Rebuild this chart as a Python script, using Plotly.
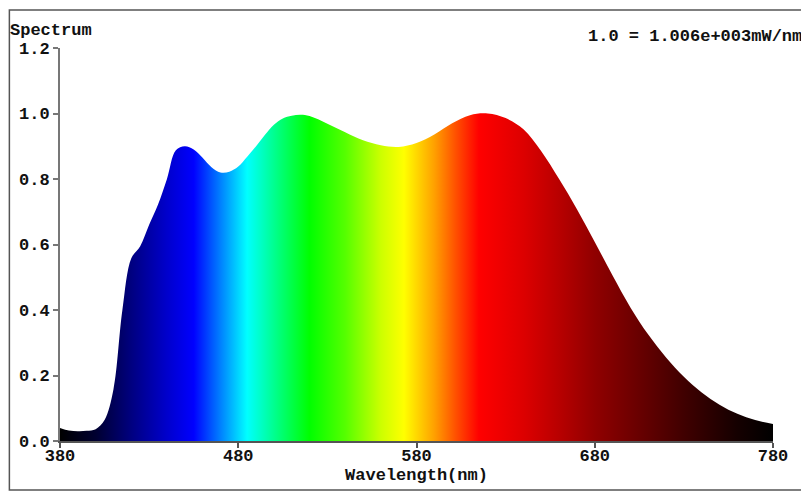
import plotly.graph_objects as go

# Spectrum (relative units, 1.0 = 1.006e+003 mW/nm)
wavelength = [380, 385, 390, 395, 400, 405, 410, 415, 420, 425, 430, 435, 440, 445,
              450, 455, 460, 465, 470, 475, 480, 485, 490, 495, 500, 505, 510, 515,
              520, 530, 540, 550, 560, 570, 580, 590, 600, 610, 620, 630, 640, 650,
              660, 670, 680, 690, 700, 710, 720, 730, 740, 750, 760, 770, 780]
intensity = [0.040, 0.032, 0.030, 0.031, 0.036, 0.064, 0.158, 0.400, 0.558, 0.595,
             0.660, 0.722, 0.800, 0.888, 0.900, 0.890, 0.865, 0.836, 0.820, 0.822,
             0.838, 0.868, 0.900, 0.935, 0.966, 0.985, 0.993, 0.996, 0.992, 0.969,
             0.943, 0.918, 0.903, 0.898, 0.910, 0.936, 0.970, 0.995, 1.000, 0.986,
             0.952, 0.885, 0.800, 0.708, 0.608, 0.505, 0.408, 0.325, 0.255, 0.196,
             0.148, 0.111, 0.083, 0.064, 0.052]

x_ticks = [380, 480, 580, 680, 780]
y_ticks = [0.0, 0.2, 0.4, 0.6, 0.8, 1.0, 1.2]

# rainbow colour stops along the wavelength axis
color_stops = [
    (380, "#000000"), (400, "#000030"), (420, "#000080"), (440, "#0000cc"),
    (455, "#0000ff"), (470, "#0080ff"), (485, "#00ffff"), (500, "#00ff90"),
    (520, "#00ff00"), (540, "#55ff00"), (560, "#ccff00"), (573, "#ffff00"),
    (590, "#ffa000"), (602, "#ff5000"), (615, "#ff0000"), (640, "#dd0000"),
    (660, "#b80000"), (680, "#900000"), (700, "#700000"), (730, "#400000"),
    (760, "#150000"), (780, "#000000"),
]
colorscale = [[(nm - 380) / 400, c] for nm, c in color_stops]

mono = "Liberation Mono, Courier New, monospace"
bold17 = dict(family=mono, size=17, color="#111", weight="bold")

fig = go.Figure()
fig.add_trace(go.Scatter(
    x=wavelength,
    y=intensity,
    mode="lines",
    line=dict(width=0, shape="spline", smoothing=1.0),
    fill="tozeroy",
    fillgradient=dict(type="horizontal", colorscale=colorscale, start=380, stop=780),
    hoverinfo="skip",
    showlegend=False,
))

# page has an 8px body margin, so the figure is 8px smaller than the window
fig.update_layout(
    width=801, height=487,
    margin=dict(l=52, r=36, t=40, b=54),
    paper_bgcolor="white",
    plot_bgcolor="white",
    font=bold17,
    shapes=[dict(type="rect", xref="paper", yref="paper",
                 x0=-0.071, x1=1.045, y0=-0.1247, y1=1.0967,
                 line=dict(color="#555", width=1.5))],
    annotations=[
        dict(text="Spectrum", xref="paper", yref="paper", x=-0.073, y=1.0458,
             xanchor="left", yanchor="middle", showarrow=False, font=bold17),
        dict(text="1.0 = 1.006e+003mW/nm", xref="paper", yref="paper", x=1.043, y=1.028,
             xanchor="right", yanchor="middle", showarrow=False, font=bold17),
    ],
)

fig.update_xaxes(
    range=[380, 780], tickvals=x_ticks, ticktext=[str(v) for v in x_ticks],
    showgrid=False, zeroline=False,
    showline=True, linecolor="#555", linewidth=2,
    ticks="outside", ticklen=5, tickcolor="#555", tickwidth=1.5,
    ticklabelstandoff=-7,
    title=dict(text="Wavelength(nm)", standoff=0, font=bold17),
)
fig.update_yaxes(
    range=[0, 1.2], tickvals=y_ticks, tickformat=".1f",
    showgrid=False, zeroline=False,
    showline=True, linecolor="#777", linewidth=2,
    ticks="outside", ticklen=5, tickcolor="#777", tickwidth=1.5,
)

fig.write_html("out.html")
